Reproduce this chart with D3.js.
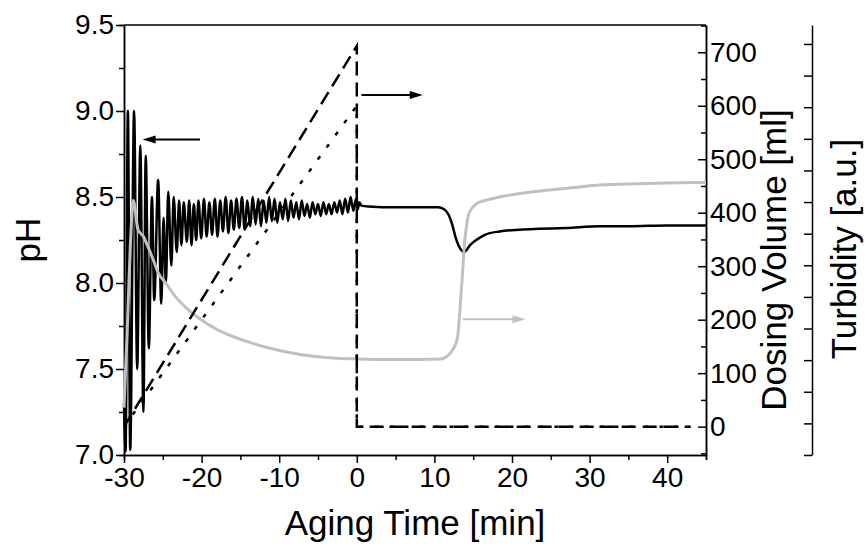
<!DOCTYPE html>
<html>
<head>
<meta charset="utf-8">
<script src="https://cdnjs.cloudflare.com/ajax/libs/d3/7.8.5/d3.min.js"></script>
<style>
  body { margin: 0; background: #fff; }
  svg { font-family: "Liberation Sans", Arial, sans-serif; }
  .axis text { font-size: 28px; fill: #000; }
  .axis path, .axis line { stroke: #000; stroke-width: 1.5; }
  .title { font-size: 35px; fill: #000; }
</style>
</head>
<body>
<script>
// values
const phTime = [-30.0, -29.8, -29.5, -29.2, -28.7, -28.3, -27.9, -27.5, -27.2, -26.8,
  -26.4, -26.1, -25.6, -25.2, -24.9, -24.6, -24.3, -23.9, -23.6, -23.2,
  -22.9, -22.6, -22.3, -21.9, -21.6, -21.3, -21.0, -20.7, -20.4, -20.05,
  -19.7, -19.35, -19.0, -18.65, -18.3, -17.95, -17.6, -17.25, -16.9, -16.55,
  -16.2, -15.85, -15.5, -15.15, -14.8, -14.45, -14.1, -13.75, -13.4, -13.05,
  -12.7, -12.35, -12.0, -11.65, -11.3, -10.95, -10.6, -10.25, -9.9, -9.55,
  -9.2, -8.85, -8.5, -8.15, -7.8, -7.45, -7.1, -6.75, -6.4, -6.05,
  -5.7, -5.35, -5.0, -4.65, -4.3, -3.95, -3.6, -3.25, -2.9, -2.55,
  -2.2, -1.85, -1.5, -1.15, -0.8, -0.45, -0.1, 0.15, 0.3, 0.6,
  1.5, 5, 8, 10.5, 11.2, 11.8, 12.3, 12.7, 13.1, 13.5,
  13.8, 14.1, 14.6, 15.4, 16.5, 18.4, 21, 23.5, 27, 31.3,
  35, 40, 45];
const phValue = [7.30, 7.02, 9.00, 7.03, 9.00, 7.50, 8.80, 7.25, 8.74, 7.62,
  8.50, 7.90, 8.60, 7.88, 8.38, 8.00, 8.53, 8.10, 8.50, 8.18,
  8.48, 8.22, 8.47, 8.24, 8.48, 8.22, 8.46, 8.25, 8.48, 8.26,
  8.49, 8.27, 8.47, 8.28, 8.49, 8.27, 8.48, 8.30, 8.50, 8.29,
  8.48, 8.31, 8.49, 8.32, 8.50, 8.31, 8.48, 8.33, 8.50, 8.34,
  8.49, 8.33, 8.48, 8.35, 8.50, 8.36, 8.49, 8.35, 8.47, 8.37,
  8.49, 8.36, 8.48, 8.38, 8.47, 8.37, 8.48, 8.39, 8.46, 8.38,
  8.47, 8.40, 8.46, 8.39, 8.47, 8.40, 8.46, 8.40, 8.47, 8.41,
  8.48, 8.40, 8.49, 8.41, 8.50, 8.42, 8.49, 8.43, 8.47, 8.45,
  8.445, 8.44, 8.44, 8.44, 8.43, 8.40, 8.34, 8.27, 8.22, 8.19,
  8.18, 8.19, 8.22, 8.25, 8.28, 8.30, 8.31, 8.315, 8.32, 8.33,
  8.33, 8.335, 8.335];

const turbTime = [-30, -29.6, -29.2, -28.8, -28.2, -27.5, -26.9, -26.2, -25.6, -24.5,
  -23.5, -22.4, -20.2, -18.1, -15.9, -13.8, -11.6, -9.5, -7.35, -5,
  -3.1, 0, 5, 10.8, 12.0, 12.6, 13.0, 13.3, 13.6, 13.9,
  14.2, 14.5, 15.4, 16.5, 18.4, 21, 24.8, 28, 31.3, 35,
  39.8, 45];
const turbValue = [1.5, 3.81, 6.53, 8.05, 7.13, 6.91, 6.58, 6.15, 5.77, 5.40,
  5.05, 4.75, 4.30, 3.98, 3.74, 3.56, 3.40, 3.28, 3.18, 3.11,
  3.07, 3.04, 3.02, 3.04, 3.21, 3.43, 3.75, 4.62, 5.66, 6.75,
  7.34, 7.67, 7.94, 8.05, 8.16, 8.27, 8.38, 8.46, 8.54, 8.57,
  8.60, 8.62];

const doseTime = [-30, 0, 0, 43];
const doseDashed = [0, 712, 0, 0];
const doseDotted = [0, 600, 0, 0];

const timeTicks = [-30, -20, -10, 0, 10, 20, 30, 40];
const phTicks = [7.0, 7.5, 8.0, 8.5, 9.0, 9.5];
const doseTicks = [0, 100, 200, 300, 400, 500, 600, 700];
const turbTicks = [0, 1, 2, 3, 4, 5, 6, 7, 8, 9, 10, 11, 12, 13];

let margin = null, width = null, height = null;
let svg = null;
let x, yPh, yDose, yTurb;

setupCanvasSize();
appendSvg("body");
setupScales();
appendAxes();
appendLines();
appendArrows();
appendTitles();

function setupCanvasSize() {
  margin = {top: 25, left: 124, bottom: 94, right: 161};
  width = 867 - margin.left - margin.right;
  height = 549 - margin.top - margin.bottom;
}

function appendSvg(domElement) {
  svg = d3.select(domElement).append("svg")
    .attr("width", width + margin.left + margin.right)
    .attr("height", height + margin.top + margin.bottom)
    .append("g")
    .attr("transform", `translate(${margin.left}, ${margin.top})`);
}

function setupScales() {
  x = d3.scaleLinear().domain([-30, 45]).range([0, width]);
  yPh = d3.scaleLinear().domain([7, 9.5]).range([height, 0]);
  yDose = d3.scaleLinear().domain([-53, 751]).range([height, 0]);
  yTurb = d3.scaleLinear().domain([0, 13.6]).range([height, 0]);
}

function appendAxes() {
  // frame top
  svg.append("line")
    .attr("x1", 0).attr("x2", width).attr("y1", 0).attr("y2", 0)
    .attr("stroke", "#000").attr("stroke-width", 1.5);

  // bottom: minor then major
  svg.append("g").attr("class", "axis")
    .attr("transform", `translate(0, ${height})`)
    .call(d3.axisBottom(x).tickValues(d3.range(-25, 46, 10)).tickSize(5).tickFormat(""));
  svg.append("g").attr("class", "axis")
    .attr("transform", `translate(0, ${height})`)
    .call(d3.axisBottom(x).tickValues(timeTicks).tickSize(8).tickSizeOuter(0)
      .tickPadding(4).tickFormat(d => String(d)));

  // left pH
  svg.append("g").attr("class", "axis")
    .call(d3.axisLeft(yPh).tickValues(d3.range(7.25, 9.5, 0.5)).tickSize(5).tickFormat(""));
  svg.append("g").attr("class", "axis")
    .call(d3.axisLeft(yPh).tickValues(phTicks).tickSize(8).tickSizeOuter(0)
      .tickPadding(2).tickFormat(d => d.toFixed(1)));

  // right dosing volume, ticks inward
  svg.append("g").attr("class", "axis")
    .attr("transform", `translate(${width}, 0)`)
    .call(d3.axisRight(yDose).tickValues(d3.range(-50, 751, 100)).tickSize(-5).tickSizeOuter(0).tickFormat(""));
  svg.append("g").attr("class", "axis")
    .attr("transform", `translate(${width}, 0)`)
    .call(d3.axisRight(yDose).tickValues(doseTicks).tickSize(-8).tickSizeOuter(0).tickPadding(4));

  // turbidity, no labels
  svg.append("g").attr("class", "axis")
    .attr("transform", `translate(${width + 106}, 0)`)
    .call(d3.axisLeft(yTurb).tickValues(turbTicks).tickSize(8).tickSizeOuter(0).tickFormat(""));
}

function appendLines() {
  const phLine = d3.line()
    .x((d, i) => x(phTime[i]))
    .y(d => yPh(d))
    .curve(d3.curveMonotoneX);
  svg.append("path")
    .datum(phValue)
    .attr("fill", "none")
    .attr("stroke", "#000")
    .attr("stroke-width", 2.5)
    .attr("stroke-linejoin", "round")
    .attr("d", phLine);

  const turbLine = d3.line()
    .x((d, i) => x(turbTime[i]))
    .y(d => yTurb(d))
    .curve(d3.curveMonotoneX);
  svg.append("path")
    .datum(turbValue)
    .attr("fill", "none")
    .attr("stroke", "#c0c0c0")
    .attr("stroke-width", 3)
    .attr("d", turbLine);

  const doseLine = d3.line()
    .x((d, i) => x(doseTime[i]))
    .y(d => yDose(d));
  svg.append("path")
    .datum(doseDashed)
    .attr("fill", "none")
    .attr("stroke", "#000")
    .attr("stroke-width", 2.5)
    .attr("stroke-dasharray", "14,7")
    .attr("d", doseLine);
  svg.append("path")
    .datum(doseDotted)
    .attr("fill", "none")
    .attr("stroke", "#000")
    .attr("stroke-width", 2.5)
    .attr("stroke-dasharray", "4,11")
    .attr("d", doseLine);
}

function arrow(x1, y1, x2, y2, color) {
  const dir = x2 > x1 ? 1 : -1;
  svg.append("line")
    .attr("x1", x1).attr("y1", y1)
    .attr("x2", x2 - dir * 10).attr("y2", y2)
    .attr("stroke", color).attr("stroke-width", 2);
  svg.append("path")
    .attr("d", `M${x2},${y2} L${x2 - dir * 13},${y2 - 4} L${x2 - dir * 13},${y2 + 4} Z`)
    .attr("fill", color);
}

function appendArrows() {
  arrow(x(-20.2), yPh(8.835), x(-27.6), yPh(8.835), "#000");
  arrow(x(0.6), yDose(620), x(8.5), yDose(620), "#000");
  arrow(x(13.67), yTurb(4.29), x(21.74), yTurb(4.29), "#c0c0c0");
}

function appendTitles() {
  svg.append("text").attr("class", "title")
    .attr("text-anchor", "middle")
    .attr("x", width / 2)
    .attr("y", height + 80)
    .text("Aging Time [min]");

  svg.append("text").attr("class", "title")
    .attr("text-anchor", "middle")
    .attr("transform", `translate(-84, ${height / 2}) rotate(-90)`)
    .text("pH");

  svg.append("text").attr("class", "title")
    .attr("text-anchor", "middle")
    .attr("transform", `translate(${width + 80}, ${height / 2 + 20}) rotate(-90)`)
    .text("Dosing Volume [ml]");

  svg.append("text").attr("class", "title")
    .attr("text-anchor", "middle")
    .attr("transform", `translate(${width + 150}, ${height / 2 + 9}) rotate(-90)`)
    .text("Turbidity [a.u.]");
}
</script>
</body>
</html>
